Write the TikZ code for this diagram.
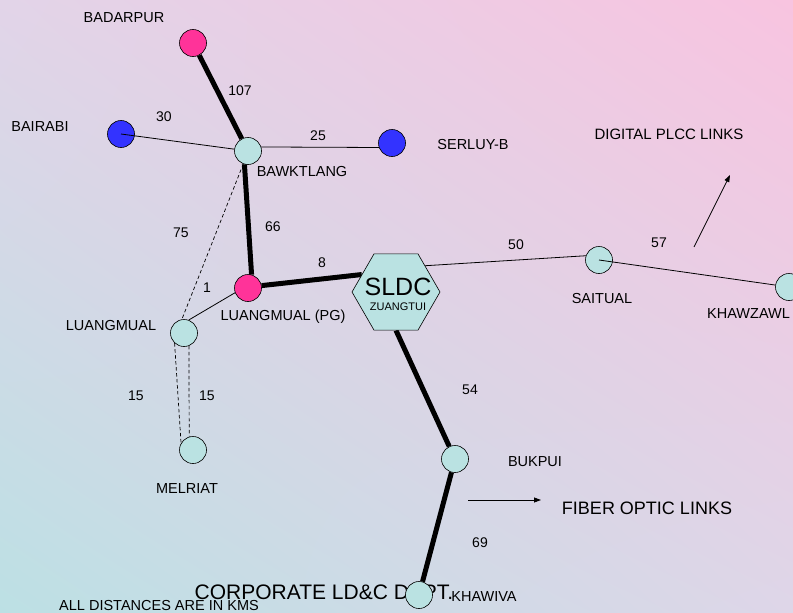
\documentclass[tikz,border=0pt]{standalone}
\usepackage{fontspec}
\setmainfont{Liberation Sans}
\usetikzlibrary{arrows.meta,shapes.geometric,shadings,backgrounds}

\definecolor{stncol}{RGB}{186,226,226}
\definecolor{pgcol}{RGB}{255,51,153}
\definecolor{extcol}{RGB}{51,51,255}
\definecolor{bgpink}{RGB}{248,196,224}
\definecolor{bglav}{RGB}{226,212,232}
\definecolor{bgcyan}{RGB}{188,224,228}
\definecolor{bglavb}{RGB}{222,214,232}

\begin{document}
\begin{tikzpicture}[x=1pt, y=-1pt, > = {Triangle[length=7pt,width=5pt]},
  stn/.style = {circle, draw, line width=0.6pt, fill=stncol, minimum size=27pt, inner sep=0pt},
  fibre/.style = {line width=5pt},
  plcc/.style = {line width=0.8pt},
  spare/.style = {line width=0.7pt, dash pattern=on 3.5pt off 2.5pt},
  lbl/.style = {font=\fontsize{14.5}{16}\selectfont, inner sep=0pt},
  km/.style = {font=\fontsize{14}{16}\selectfont, inner sep=0pt}]

    \useasboundingbox (0,0) rectangle (793,613);

    % stations
    \node[stn, fill=pgcol] (badarpur) at (193,43) {};
    \node[stn, fill=extcol] (bairabi) at (121,134) {};
    \node[stn] (bawktlang) at (248,151) {};
    \node[stn, fill=extcol] (serluy) at (392,143) {};
    \node[stn, fill=pgcol] (luangpg) at (248,288) {};
    \node[stn] (luangmual) at (184,333) {};
    \node[stn] (melriat) at (193,450) {};
    \node[draw, line width=0.6pt, fill=stncol, regular polygon, regular polygon sides=6, minimum size=88pt, inner sep=0pt] (sldc) at (396,292) {};
    \node[align=center, inner sep=0pt] (sldc-t) at (398,294) {\fontsize{25}{25}\selectfont SLDC\\[3pt]\fontsize{11}{12}\selectfont ZUANGTUI};
    \node[stn] (saitual) at (599,260) {};
    \node[stn] (khawzawl) at (789,287) {};
    \node[stn] (bukpui) at (455,459) {};
    \node[font=\fontsize{21}{23}\selectfont, inner sep=0pt] (corp) at (324,592) {CORPORATE LD\&C DEPT.};
    \node[stn] (khawiva) at (419,595) {};

    % station names
    \node[lbl] (badarpur-l) at (124,18) {BADARPUR};
    \node[lbl] (bairabi-l) at (40,127) {BAIRABI};
    \node[lbl] (bawktlang-l) at (302,172) {BAWKTLANG};
    \node[lbl] (serluy-l) at (473,145) {SERLUY-B};
    \node[lbl] (luangpg-l) at (283,317) {LUANGMUAL (PG)};
    \node[lbl] (luangmual-l) at (111,326) {LUANGMUAL};
    \node[lbl] (melriat-l) at (187,489) {MELRIAT};
    \node[lbl] (saitual-l) at (602,299) {SAITUAL};
    \node[lbl, anchor=west] (khawzawl-l) at (707,314) {KHAWZAWL};
    \node[lbl] (bukpui-l) at (535,462) {BUKPUI};
    \node[lbl] (khawiva-l) at (484,597) {KHAWIVA};

    % distances
    \node[km] (d107) at (240,91) {107};
    \node[km] (d30) at (164,117) {30};
    \node[km] (d25) at (318,136) {25};
    \node[km] (d75) at (181,233) {75};
    \node[km] (d66) at (273,227) {66};
    \node[km] (d8) at (322,263) {8};
    \node[km] (d1) at (207,288) {1};
    \node[km] (d50) at (516,245) {50};
    \node[km] (d57) at (659,243) {57};
    \node[km] (d15a) at (136,396) {15};
    \node[km] (d15b) at (207,396) {15};
    \node[km] (d54) at (470,390) {54};
    \node[km] (d69) at (480,543) {69};

    % legend
    \node[font=\fontsize{15}{17}\selectfont, inner sep=0pt] (plcc-l) at (669,134) {DIGITAL PLCC LINKS};
    \node[font=\fontsize{18}{20}\selectfont, inner sep=0pt] (fibre-l) at (647,508) {FIBER OPTIC LINKS};
    \node[font=\fontsize{14.5}{16}\selectfont, inner sep=0pt] (note) at (159,606) {ALL DISTANCES ARE IN KMS};
    \coordinate (plcc-a) at (694,247);
    \coordinate (plcc-b) at (730,175);
    \coordinate (fibre-a) at (468,500);
    \coordinate (fibre-b) at (541,500);
    \draw[plcc, ->] (plcc-a) -- (plcc-b);
    \draw[plcc, ->] (fibre-a) -- (fibre-b);

    % links
    \draw[plcc] (bairabi.center) -- (bawktlang);
    \draw[plcc] (saitual.center) -- (khawzawl);
    \begin{scope}[on background layer]
        \shade[upper left=bglav, upper right=bgpink, lower left=bgcyan, lower right=bglavb] (0,0) rectangle (793,613);
        \draw[fibre] (badarpur) -- (bawktlang);
        \draw[fibre] (bawktlang.-105) -- (luangpg.75);
        \draw[fibre] (luangpg.10) -- (sldc.153);
        \draw[fibre] (sldc.south) -- (bukpui);
        \draw[fibre] (bukpui) -- (khawiva);
        \draw[plcc] (bawktlang.17) -- (serluy.-161);
        \draw[plcc] (luangmual.70) -- (luangpg.-160);
        \draw[plcc] (sldc.42) -- (saitual.162);
        \draw[spare] (bawktlang.-110) -- (luangmual.99);
        \draw[spare] (luangmual.-133) -- (melriat.150);
        \draw[spare] (luangmual.-69) -- (melriat.106);
    \end{scope}

\end{tikzpicture}
\end{document}
